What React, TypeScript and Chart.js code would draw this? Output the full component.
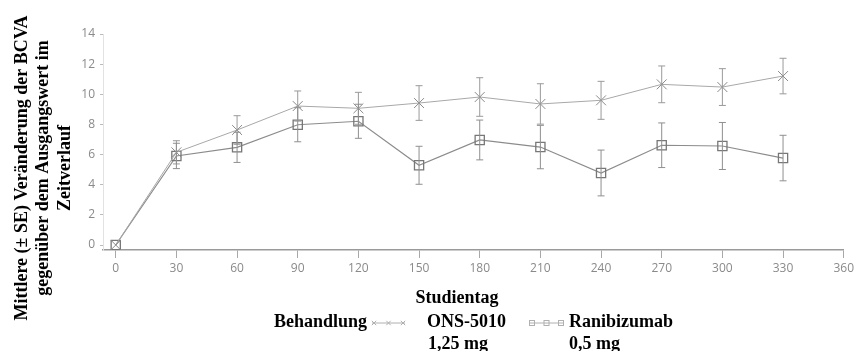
import React, { useEffect, useRef } from "react";
import { Chart, registerables } from "chart.js";

Chart.register(...registerables);

// ---- data ----
const days = [0, 30, 60, 90, 120, 150, 180, 210, 240, 270, 300, 330];
const onsMean = [0, 6.15, 7.63, 9.22, 9.07, 9.42, 9.82, 9.36, 9.6, 10.66, 10.48, 11.21];
const onsSE = [0, 0.77, 0.95, 1.0, 1.06, 1.15, 1.28, 1.34, 1.26, 1.22, 1.22, 1.18];
const raniMean = [0, 5.91, 6.48, 7.98, 8.21, 5.29, 6.97, 6.5, 4.78, 6.62, 6.57, 5.77];
const raniSE = [0, 0.84, 1.0, 1.13, 1.13, 1.26, 1.32, 1.44, 1.52, 1.48, 1.56, 1.51];
const xTickValues = [0, 30, 60, 90, 120, 150, 180, 210, 240, 270, 300, 330, 360];
const yTickValues = [0, 2, 4, 6, 8, 10, 12, 14];
const yTitleLines = [
  "Mittlere (\u00b1 SE) Ver\u00e4nderung der BCVA",
  "gegen\u00fcber dem Ausgangswert im",
  "Zeitverlauf",
];
const xTitle = "Studientag";
const legendTitle = "Behandlung";
const onsLabel = ["ONS-5010", "1,25 mg"];
const raniLabel = ["Ranibizumab", "0,5 mg"];
const seriesSE = [onsSE, raniSE];

const SERIF = "bold 18px 'Liberation Serif', 'Times New Roman', serif";

const errorBarPlugin = {
  id: "errorBars",
  afterDatasetsDraw(chart: any) {
    const ctx = chart.ctx;
    const yScale = chart.scales.y;
    chart.data.datasets.forEach((ds: any, di: number) => {
      const meta = chart.getDatasetMeta(di);
      const se = seriesSE[di];
      ctx.save();
      ctx.strokeStyle = di === 0 ? "#9a9a9a" : "#8f8f8f";
      ctx.lineWidth = 1;
      meta.data.forEach((pt: any, i: number) => {
        const v = ds.data[i].y;
        const s = se[i];
        if (!s) return;
        const x = pt.x;
        const yt = yScale.getPixelForValue(v + s);
        const yb = yScale.getPixelForValue(v - s);
        ctx.beginPath();
        ctx.moveTo(x, yt);
        ctx.lineTo(x, yb);
        ctx.moveTo(x - 3.5, yt);
        ctx.lineTo(x + 3.5, yt);
        ctx.moveTo(x - 3.5, yb);
        ctx.lineTo(x + 3.5, yb);
        ctx.stroke();
      });
      ctx.restore();
    });
  },
};

const textPlugin = {
  id: "texts",
  afterDraw(chart: any) {
    const ctx = chart.ctx;
    ctx.save();
    ctx.fillStyle = "#000";
    ctx.font = SERIF;
    ctx.textBaseline = "alphabetic";

    // y-axis title (rotated)
    const baseX = [26.5, 47.5, 69.5];
    yTitleLines.forEach((line, i) => {
      ctx.save();
      ctx.translate(baseX[i], 168);
      ctx.rotate(-Math.PI / 2);
      ctx.textAlign = "center";
      ctx.fillText(line, 0, 0);
      ctx.restore();
    });

    // x-axis title
    ctx.textAlign = "center";
    ctx.fillText(xTitle, 457, 303);

    // legend
    ctx.textAlign = "left";
    ctx.fillText(legendTitle, 274, 327);
    ctx.fillText(onsLabel[0], 427, 327);
    ctx.fillText(onsLabel[1], 428, 349);
    ctx.fillText(raniLabel[0], 569, 327);
    ctx.fillText(raniLabel[1], 569, 349);

    // legend samples
    const ly = 323;
    ctx.strokeStyle = "#b0b0b0";
    ctx.lineWidth = 1;
    ctx.beginPath();
    ctx.moveTo(372, ly);
    ctx.lineTo(405, ly);
    ctx.stroke();
    [374, 388.5, 403].forEach((x) => {
      ctx.beginPath();
      ctx.moveTo(x - 2.2, ly - 2.2);
      ctx.lineTo(x + 2.2, ly + 2.2);
      ctx.moveTo(x - 2.2, ly + 2.2);
      ctx.lineTo(x + 2.2, ly - 2.2);
      ctx.stroke();
    });
    ctx.beginPath();
    ctx.moveTo(530, ly);
    ctx.lineTo(563, ly);
    ctx.stroke();
    [532, 546.5, 561].forEach((x) => {
      ctx.strokeRect(x - 2.5, ly - 2.5, 5, 5);
    });
    ctx.restore();
  },
};

export default function App() {
  const ref = useRef<HTMLCanvasElement | null>(null);

  useEffect(() => {
    if (!ref.current) return;
    const chart = new Chart(ref.current, {
      type: "line",
      data: {
        datasets: [
          {
            label: onsLabel.join(" "),
            data: days.map((d, i) => ({ x: d, y: onsMean[i] })),
            borderColor: "#a8a8a8",
            borderWidth: 1,
            pointStyle: "crossRot",
            pointRadius: 7,
            pointBorderWidth: 1,
            pointBorderColor: "#8a8a8a",
            pointBackgroundColor: "rgba(0,0,0,0)",
            tension: 0,
          },
          {
            label: raniLabel.join(" "),
            data: days.map((d, i) => ({ x: d, y: raniMean[i] })),
            borderColor: "#8c8c8c",
            borderWidth: 1.2,
            pointStyle: "rect",
            pointRadius: 6.5,
            pointBorderWidth: 1.3,
            pointBorderColor: "#777",
            pointBackgroundColor: "rgba(0,0,0,0)",
            tension: 0,
          },
        ],
      },
      options: {
        responsive: false,
        animation: false,
        events: [],
        layout: { padding: { top: 34, right: 11, left: 0, bottom: 0 } },
        plugins: { legend: { display: false }, tooltip: { enabled: false } },
        scales: {
          x: {
            type: "linear",
            min: -6.3,
            max: 360,
            afterBuildTicks: (s: any) => {
              s.ticks = xTickValues.map((v) => ({ value: v }));
            },
            afterFit: (s: any) => {
              s.height = 101;
            },
            ticks: {
              autoSkip: false,
              maxRotation: 0,
              padding: 3,
              color: "#8a8a8a",
              font: { family: "'Open Sans', sans-serif", size: 12 },
            },
            grid: { drawOnChartArea: false, drawTicks: true, tickLength: 8, color: "#a8a8a8" },
            border: { color: "#9a9a9a", width: 1.5 },
          },
          y: {
            min: -0.33,
            max: 14,
            afterBuildTicks: (s: any) => {
              s.ticks = yTickValues.map((v) => ({ value: v }));
            },
            afterFit: (s: any) => {
              s.width = 103;
            },
            ticks: {
              padding: 5,
              color: "#8a8a8a",
              font: { family: "'Open Sans', sans-serif", size: 12 },
            },
            grid: { drawOnChartArea: false, drawTicks: true, tickLength: 3, color: "#bbb" },
            border: { color: "#e2e2e2", width: 1 },
          },
        },
      },
      plugins: [errorBarPlugin, textPlugin],
    });
    return () => chart.destroy();
  }, []);

  return (
    <div style={{ position: "absolute", left: 0, top: 0, width: 857, height: 351, background: "#fff" }}>
      <canvas ref={ref} width={857} height={351} style={{ display: "block" }} />
    </div>
  );
}
